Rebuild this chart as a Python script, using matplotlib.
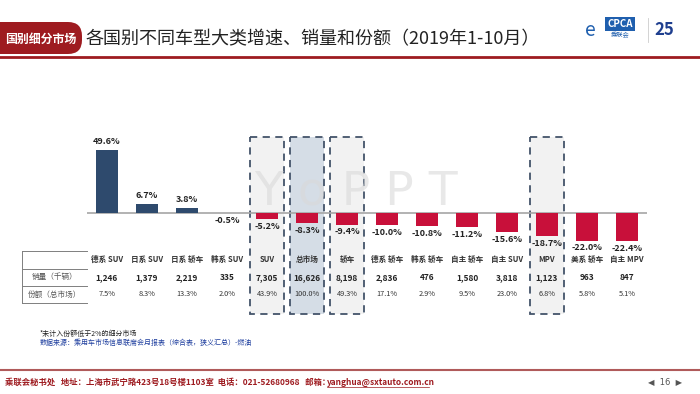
import matplotlib.pyplot as plt
import matplotlib.patches as mpatches
from matplotlib.transforms import blended_transform_factory

plt.rcParams['font.family'] = ['Noto Sans CJK SC', 'DejaVu Sans']

# Creating dataset
segments = ['德系 SUV', '日系 SUV', '日系 轿车', '韩系 SUV', 'SUV', '总市场', '轿车',
            '德系 轿车', '韩系 轿车', '自主 轿车', '自主 SUV', 'MPV', '美系 轿车', '自主 MPV']
growth = [49.6, 6.7, 3.8, -0.5, -5.2, -8.3, -9.4, -10.0, -10.8, -11.2, -15.6, -18.7, -22.0, -22.4]
sales = ['1,246', '1,379', '2,219', '335', '7,305', '16,626', '8,198',
         '2,836', '476', '1,580', '3,818', '1,123', '963', '847']
share = ['7.5%', '8.3%', '13.3%', '2.0%', '43.9%', '100.0%', '49.3%',
         '17.1%', '2.9%', '9.5%', '23.0%', '6.8%', '5.8%', '5.1%']
row_labels = ['销量（千辆）', '份额（总市场）']
boxed = {'SUV': '#f2f2f2', '总市场': '#d5dde6', '轿车': '#f2f2f2', 'MPV': '#f2f2f2'}

navy = '#2e4a6d'
red = '#c8103a'
dark_red = '#9e1b20'

fig = plt.figure(figsize=(7, 3.94), dpi=100)

# background axes in pixel coordinates
bg = fig.add_axes([0, 0, 1, 1], zorder=0)
bg.set_xlim(0, 700)
bg.set_ylim(394, 0)
bg.axis('off')

# header
tab = mpatches.FancyBboxPatch((-20, 22), 102, 32, boxstyle='round,pad=0,rounding_size=14',
                              fc=dark_red, ec='none')
bg.add_patch(tab)
bg.text(5, 39, '国别细分市场', color='white', fontsize=8.6, fontweight='bold', va='center')
bg.text(86, 39, '各国别不同车型大类增速、销量和份额（2019年1-10月）', color='#222222',
        fontsize=13, va='center')
bg.plot([0, 700], [56.5, 56.5], color=dark_red, lw=2)
bg.text(620, 24, 'CPCA', color='white', fontsize=7, fontweight='bold', style='italic',
        ha='center', va='center', bbox=dict(fc='#1f5fae', ec='none', pad=1.5))
bg.text(620, 35, '乘联会', color='#1f5fae', fontsize=4.5, ha='center', va='center')
bg.text(590, 30, 'e', color='#1f5fae', fontsize=14, style='italic', ha='center', va='center')
bg.plot([648, 648], [18, 42], color='#cccccc', lw=0.6)
bg.text(664, 30, '25', color='#1f3f8f', fontsize=12, fontweight='bold', style='italic',
        ha='center', va='center')

# bar axes
ax = fig.add_axes([87 / 700, 1 - 250 / 394, 560 / 700, 150 / 394], zorder=1)
ax.patch.set_alpha(0)
ax.set_xlim(-0.5, len(segments) - 0.5)
ax.set_ylim(-29.5, 89.2)
ax.axis('off')

xb = blended_transform_factory(ax.transData, bg.transData)

# dashed highlight boxes
for i, name in enumerate(segments):
    if name in boxed:
        r = mpatches.Rectangle((i - 0.43, 137), 0.86, 177, transform=xb, fc=boxed[name],
                               ec='#44546a', ls=(0, (4, 3)), lw=1.3, zorder=0.5)
        bg.add_patch(r)

# watermark
bg.text(356, 192, 'Y o P P T', color='#d9d9d9', alpha=0.6, fontsize=34, ha='center',
        va='center', zorder=1, family=['DejaVu Sans'])

colors = [navy if v > 0 else red for v in growth]
x = list(range(len(segments)))
ax.bar(x, growth, width=0.55, color=colors, zorder=3)
ax.axhline(0, color='#a6a6a6', lw=1.2, zorder=2)
for i, v in enumerate(growth):
    if v > 0:
        ax.annotate(f'{v:.1f}%', (i, v), xytext=(0, 3), textcoords='offset points',
                    ha='center', va='bottom', fontsize=6.5, fontweight='bold', color='#222222')
    else:
        ax.annotate(f'{v:.1f}%', (i, v), xytext=(0, -2), textcoords='offset points',
                    ha='center', va='top', fontsize=6.5, fontweight='bold', color='#222222')

# table
row_y = [251, 268.5, 286, 303]
n = len(segments)
line_kw = dict(color='#7f7f7f', lw=0.7, zorder=4)
bg.plot([22, 22], [row_y[0], row_y[-1]], **line_kw)
for y in row_y:
    bg.plot([22, 87], [y, y], **line_kw)
    ax.plot([-0.5, n - 0.5], [y, y], transform=xb, **line_kw)
for k in range(n + 1):
    ax.plot([k - 0.5, k - 0.5], [row_y[0], row_y[-1]], transform=xb, **line_kw)

for i in range(n):
    ax.text(i, (row_y[0] + row_y[1]) / 2, segments[i], transform=xb, ha='center',
            va='center', fontsize=5.5, fontweight='bold', color='#333333', zorder=5)
    ax.text(i, (row_y[1] + row_y[2]) / 2, sales[i], transform=xb, ha='center',
            va='center', fontsize=6, fontweight='bold', color='#222222', zorder=5)
    ax.text(i, (row_y[2] + row_y[3]) / 2, share[i], transform=xb, ha='center',
            va='center', fontsize=5.3, color='#333333', zorder=5)
for j, lab in enumerate(row_labels):
    bg.text(54.5, (row_y[j + 1] + row_y[j + 2]) / 2, lab, ha='center', va='center',
            fontsize=5.5, color='#555555', zorder=5)

# notes
bg.text(40, 334, '*未计入份额低于2%的细分市场', fontsize=5, color='#222222', va='center')
bg.text(40, 343, '数据来源：乘用车市场信息联席会月报表（综合表，狭义汇总）-燃油', fontsize=5,
        color='#1f3f9f', va='center')

# footer
bg.plot([0, 700], [370, 370], color='#b05a5a', lw=1.5)
bg.text(5, 382, '乘联会秘书处   地址：上海市武宁路423号18号楼1103室  电话：021-52680968   邮箱：',
        fontsize=6, fontweight='bold', color=dark_red, va='center')
bg.text(327, 382, 'yanghua@sxtauto.com.cn', fontsize=6, fontweight='bold', color=dark_red,
        va='center')
bg.plot([327, 429], [386.5, 386.5], color=dark_red, lw=0.5)
bg.text(665, 382, '◀  16  ▶', fontsize=6, color='#555555', ha='center', va='center',
        family=['DejaVu Sans'])

fig.savefig('out.png', dpi=100)
